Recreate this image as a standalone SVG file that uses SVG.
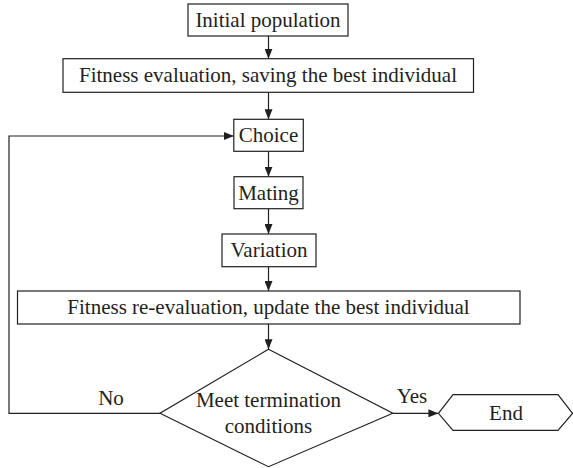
<svg xmlns="http://www.w3.org/2000/svg" width="573" height="468" viewBox="0 0 573 468">
<defs>
<marker id="ah" viewBox="0 0 10 8" refX="10" refY="4" markerWidth="10" markerHeight="8" markerUnits="userSpaceOnUse" orient="auto">
<path d="M0,0 L10,4 L0,8 z" fill="#231f20"/>
</marker>
<style>
.box{fill:#fff;stroke:#231f20;stroke-width:1.2}
.t{font-family:"Liberation Serif","Times New Roman",serif;font-size:21px;fill:#231f20;text-anchor:middle}
.c{fill:none;stroke:#231f20;stroke-width:1.2;marker-end:url(#ah)}
</style>
</defs>
<rect width="573" height="468" fill="#fff"/>
<g id="connectors">
<path class="c" d="M268.5,36 V58.7"/>
<path class="c" d="M268.5,92.3 V119.3"/>
<path class="c" d="M268.5,151.3 V176.7"/>
<path class="c" d="M268.5,208.7 V234"/>
<path class="c" d="M268.5,266.7 V291"/>
<path class="c" d="M268.5,324 V349.3"/>
<path class="c" d="M160,413.3 H9 V136 H233.8"/>
<path class="c" d="M392.8,413.3 H438.4"/>
<text class="t" x="111" y="405">No</text>
<text class="t" x="412" y="403">Yes</text>
</g>
<g id="n1"><rect class="box" x="188" y="4" width="160" height="32"/><text class="t" x="268" y="27">Initial population</text></g>
<g id="n2"><rect class="box" x="63" y="58.7" width="410.5" height="33.6"/><text class="t" x="268" y="82">Fitness evaluation, saving the best individual</text></g>
<g id="n3"><rect class="box" x="233.8" y="119.3" width="69.5" height="32"/><text class="t" x="268.5" y="142">Choice</text></g>
<g id="n4"><rect class="box" x="234" y="176.7" width="69" height="32"/><text class="t" x="268.5" y="199.5">Mating</text></g>
<g id="n5"><rect class="box" x="222" y="234" width="94" height="32.7"/><text class="t" x="269" y="257">Variation</text></g>
<g id="n6"><rect class="box" x="17.5" y="291" width="502.5" height="33"/><text class="t" x="268.5" y="314">Fitness re-evaluation, update the best individual</text></g>
<g id="n7"><polygon class="box" points="268.5,349.3 392.8,413.3 268.5,466.7 160,413.3"/><text class="t" x="268.5" y="407">Meet termination</text><text class="t" x="268.5" y="433">conditions</text></g>
<g id="n8"><polygon class="box" points="438.4,413.3 453,394.7 558,394.7 572.5,413.3 558,430.3 453,430.3"/><text class="t" x="506" y="420">End</text></g>
</svg>
